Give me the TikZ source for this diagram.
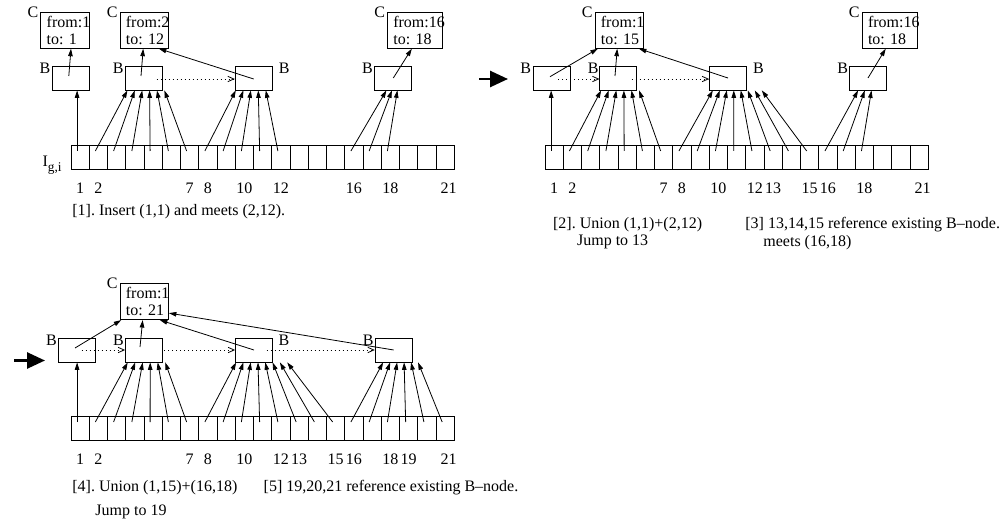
\documentclass[tikz,border=0pt]{standalone}
\usepackage{fontspec}
\setmainfont{Liberation Serif}
\usepackage{tikz}
\usetikzlibrary{positioning,arrows.meta,calc}
\frenchspacing

\begin{document}
\begin{tikzpicture}[
  x=0.75pt, y=-0.75pt,
  font=\fontsize{12}{12.5}\selectfont,
  line width=0.6pt, >={Triangle[length=5.6pt,width=3.4pt]},
  cell/.style={draw,minimum width=13.69pt,minimum height=18pt,inner sep=0pt,outer sep=0pt},
  bnode/.style={draw,minimum width=27.75pt,minimum height=18pt,inner sep=0pt},
  cnode/.style={draw,minimum height=27pt,text width=27.45pt,inner xsep=4.5pt,
                inner ysep=1pt,align=left},
  cwide/.style={cnode,text width=32.25pt},
  lbl/.style={inner sep=0pt},
  num/.style={inner sep=0pt},
  caption/.style={anchor=west,inner sep=0pt},
  link/.style={dash pattern=on 0.6pt off 2.4pt,-{Straight Barb[length=4.5pt,width=4pt]}},
  bigarrow/.style={line width=2pt,-{Triangle[length=13.5pt,width=12pt]}}]
  \useasboundingbox (0,0) rectangle (1002,527);

  % --- step [1]: insert (1,1), meets (2,12) ---
  \node[cell] (ia1) at (80.1,157) {};
  \foreach \i in {2,...,21}{%
    \pgfmathtruncatemacro{\p}{\i-1}%
    \node[cell,right=0pt of ia\p] (ia\i) {};}
  \node[anchor=base east,inner sep=0pt] (ila) at ($(ia1.south west)+(-9,-2)$)
    {I\raisebox{-3.4pt}{\fontsize{10}{10}\selectfont g,i}};
  \foreach \i in {1,2,7,8,10,12,16,18}
    \node[num] (na\i) at ($(ia\i.south)+(0,19)$) {\i};
  \node[num] (na21) at ($(ia21.south)+(3.5,19)$) {21};
  \node[bnode] (ba1) at (70.8,78) {};
  \node[bnode] (ba2) at (144,78) {};
  \node[bnode] (ba3) at (253.7,78) {};
  \node[bnode] (ba4) at (393.3,78) {};
  \node[lbl] (lba1) at ($(ba1.north west)+(-7,3)$) {B};
  \node[lbl] (lba2) at ($(ba2.north west)+(-7,3)$) {B};
  \node[lbl] (lba3) at ($(ba3.north east)+(11.5,3)$) {B};
  \node[lbl] (lba4) at ($(ba4.north west)+(-7,3)$) {B};
  \node[cnode] (ca1) at (65,30.3) {from:1\\to:~1};
  \node[cnode] (ca2) at (144.2,30.3) {from:2\\to:~12};
  \node[cwide] (ca4) at (414.8,30.3) {from:16\\to:~18};
  \node[lbl] (lca1) at ($(ca1.north west)+(-7.3,0)$) {C};
  \node[lbl] (lca2) at ($(ca2.north west)+(-7.3,0)$) {C};
  \node[lbl] (lca4) at ($(ca4.north west)+(-7.3,0)$) {C};
  \coordinate (sa1) at ($(ia1.center)+(-3,-6)$);
  \draw[->] (sa1) -- (sa1 |- ba1.south);
  \foreach \i [count=\k from 0] in {2,...,7}
    \draw[->] ($(ia\i.center)+(-3,-6)$) -- ($(ba2.south west)+(2.3+7.4*\k,0)$);
  \foreach \i [count=\k from 0] in {8,...,12}
    \draw[->] ($(ia\i.center)+(-3,-6)$) -- ($(ba3.south west)+(1+7.5*\k,0)$);
  \foreach \i [count=\k from 0] in {16,17,18}
    \draw[->] ($(ia\i.center)+(-3,-6)$) -- ($(ba4.south west)+(12+5.5*\k,0)$);
  \draw[->] ($(ba1.center)+(-2,-2)$) -- ($(ca1.south)+(6,0)$);
  \draw[->] ($(ba2.center)+(-3,-2)$) -- ($(ca2.south)+(-1,0)$);
  \draw[->] ($(ba3.center)+(0,1)$) -- ($(ca2.south east)+(-10,0)$);
  \draw[->] (ba4.center) -- ($(ca4.south)+(-3,0)$);
  \draw[link] ($(ba2.center)+(12.7,1)$) -- ($(ba3.west)+(0,1)$);
  \node[caption] (capa) at (72,212) {[1]. Insert (1,1) and meets (2,12).};

  % --- step [2]/[3]: union, then 13..15 point to the B-node ---
  \coordinate (ga0) at (479,79);
  \coordinate (ga1) at (508,79);
  \draw[bigarrow] (ga0) -- (ga1);
  \node[cell] (ib1) at (554.15,157) {};
  \foreach \i in {2,...,21}{%
    \pgfmathtruncatemacro{\p}{\i-1}%
    \node[cell,right=0pt of ib\p] (ib\i) {};}
  \foreach \i in {1,2,7,8,10,12,13,15,16,18}
    \node[num] (nb\i) at ($(ib\i.south)+(0,19)$) {\i};
  \node[num] (nb21) at ($(ib21.south)+(3.5,19)$) {21};
  \node[bnode] (bb1) at (551.7,78) {};
  \node[bnode] (bb2) at (618.3,78) {};
  \node[bnode] (bb3) at (728,78) {};
  \node[bnode] (bb4) at (868,78) {};
  \node[lbl] (lbb1) at ($(bb1.north west)+(-7,3)$) {B};
  \node[lbl] (lbb2) at ($(bb2.north west)+(-6.3,3)$) {B};
  \node[lbl] (lbb3) at ($(bb3.north east)+(11.5,3)$) {B};
  \node[lbl] (lbb4) at ($(bb4.north west)+(-6.5,3)$) {B};
  \node[cnode] (cb1) at (619.2,30.3) {from:1\\to:~15};
  \node[cwide] (cb4) at (889.5,30.3) {from:16\\to:~18};
  \node[lbl] (lcb1) at ($(cb1.north west)+(-7.3,0)$) {C};
  \node[lbl] (lcb4) at ($(cb4.north west)+(-7.3,0)$) {C};
  \coordinate (sb1) at ($(ib1.center)+(-3,-6)$);
  \draw[->] (sb1) -- (sb1 |- bb1.south);
  \foreach \i [count=\k from 0] in {2,...,7}
    \draw[->] ($(ib\i.center)+(-3,-6)$) -- ($(bb2.south west)+(1.7+7.6*\k,0)$);
  \foreach \i [count=\k from 0] in {8,...,15}
    \draw[->] ($(ib\i.center)+(-3,-6)$) -- ($(bb3.south west)+(3.7+7*\k,0)$);
  \foreach \i [count=\k from 0] in {16,17,18}
    \draw[->] ($(ib\i.center)+(-3,-6)$) -- ($(bb4.south west)+(9+6.7*\k,0)$);
  \draw[->] ($(bb1.center)+(-1.7,-1.3)$) -- ($(cb1.south west)+(3.3,0)$);
  \draw[->] ($(bb2.center)+(-3.3,-2)$) -- ($(cb1.south)+(-2,0)$);
  \draw[->] (bb3.center) -- ($(cb1.south east)+(-5,0)$);
  \draw[->] (bb4.center) -- ($(cb4.south)+(-3.8,0)$);
  \draw[link] ($(bb1.center)+(6.6,1)$) -- ($(bb2.west)+(0,1)$);
  \draw[link] ($(bb2.center)+(13.4,1)$) -- ($(bb3.west)+(0,1)$);
  \node[caption] (capb) at (552.7,225) {[2]. Union (1,1)+(2,12)};
  \node[caption] (capbj) at (576.7,242) {Jump to 13};
  \node[caption] (capc) at (745,225) {[3] 13,14,15 reference existing B--node.};
  \node[caption] (capcm) at (763,243) {meets (16,18)};

  % --- step [4]/[5]: union (1,15)+(16,18), 19..21 reuse it ---
  \coordinate (gc0) at (14,360.5);
  \coordinate (gc1) at (45,360.5);
  \draw[bigarrow] (gc0) -- (gc1);
  \node[cell] (ic1) at (80.1,428) {};
  \foreach \i in {2,...,21}{%
    \pgfmathtruncatemacro{\p}{\i-1}%
    \node[cell,right=0pt of ic\p] (ic\i) {};}
  \foreach \i in {1,2,7,8,10,12,13,15,16,18,19}
    \node[num] (nc\i) at ($(ic\i.south)+(0,19)$) {\i};
  \node[num] (nc21) at ($(ic21.south)+(3.5,19)$) {21};
  \node[bnode] (bc1) at (77,350) {};
  \node[bnode] (bc2) at (144,350) {};
  \node[bnode] (bc3) at (254,350) {};
  \node[bnode] (bc4) at (393.7,350) {};
  \node[lbl] (lbc1) at ($(bc1.north west)+(-6.6,3)$) {B};
  \node[lbl] (lbc2) at ($(bc2.north west)+(-6.7,3)$) {B};
  \node[lbl] (lbc3) at ($(bc3.north east)+(11,3)$) {B};
  \node[lbl] (lbc4) at ($(bc4.north west)+(-6.7,3)$) {B};
  \node[cnode] (cc1) at (144.2,301.7) {from:1\\to:~21};
  \node[lbl] (lcc1) at ($(cc1.north west)+(-7.2,0)$) {C};
  \coordinate (sc1) at ($(ic1.center)+(-3,-6)$);
  \draw[->] (sc1) -- (sc1 |- bc1.south);
  \foreach \i [count=\k from 0] in {2,...,7}
    \draw[->] ($(ic\i.center)+(-3,-6)$) -- ($(bc2.south west)+(2.6+7.5*\k,0)$);
  \foreach \i [count=\k from 0] in {8,...,15}
    \draw[->] ($(ic\i.center)+(-3,-6)$) -- ($(bc3.south west)+(1+7.3*\k,0)$);
  \foreach \i [count=\k from 0] in {16,...,21}
    \draw[->] ($(ic\i.center)+(-3,-6)$) -- ($(bc4.south west)+(8.3+7*\k,0)$);
  \draw[->] ($(bc1.center)+(-2,-2)$) -- ($(cc1.south west)+(1.7,0)$);
  \draw[->] ($(bc2.center)+(-4,-3)$) -- ($(cc1.south)+(-1.5,0)$);
  \draw[->] (bc3.center) -- ($(cc1.south east)+(-9,0)$);
  \draw[->] (bc4.center) -- ($(cc1.south east)+(0,-7)$);
  \draw[link] ($(bc1.center)+(4.7,0)$) -- (bc2.west);
  \draw[link] ($(bc2.center)+(20,0)$) -- (bc3.west);
  \draw[link] ($(bc3.center)+(12.7,0)$) -- (bc4.west);
  \node[caption] (capd) at (72,488) {[4]. Union (1,15)+(16,18)};
  \node[caption] (capdj) at (95,512) {Jump to 19};
  \node[caption] (cape) at (263.3,488) {[5] 19,20,21 reference existing B--node.};
\end{tikzpicture}
\end{document}
